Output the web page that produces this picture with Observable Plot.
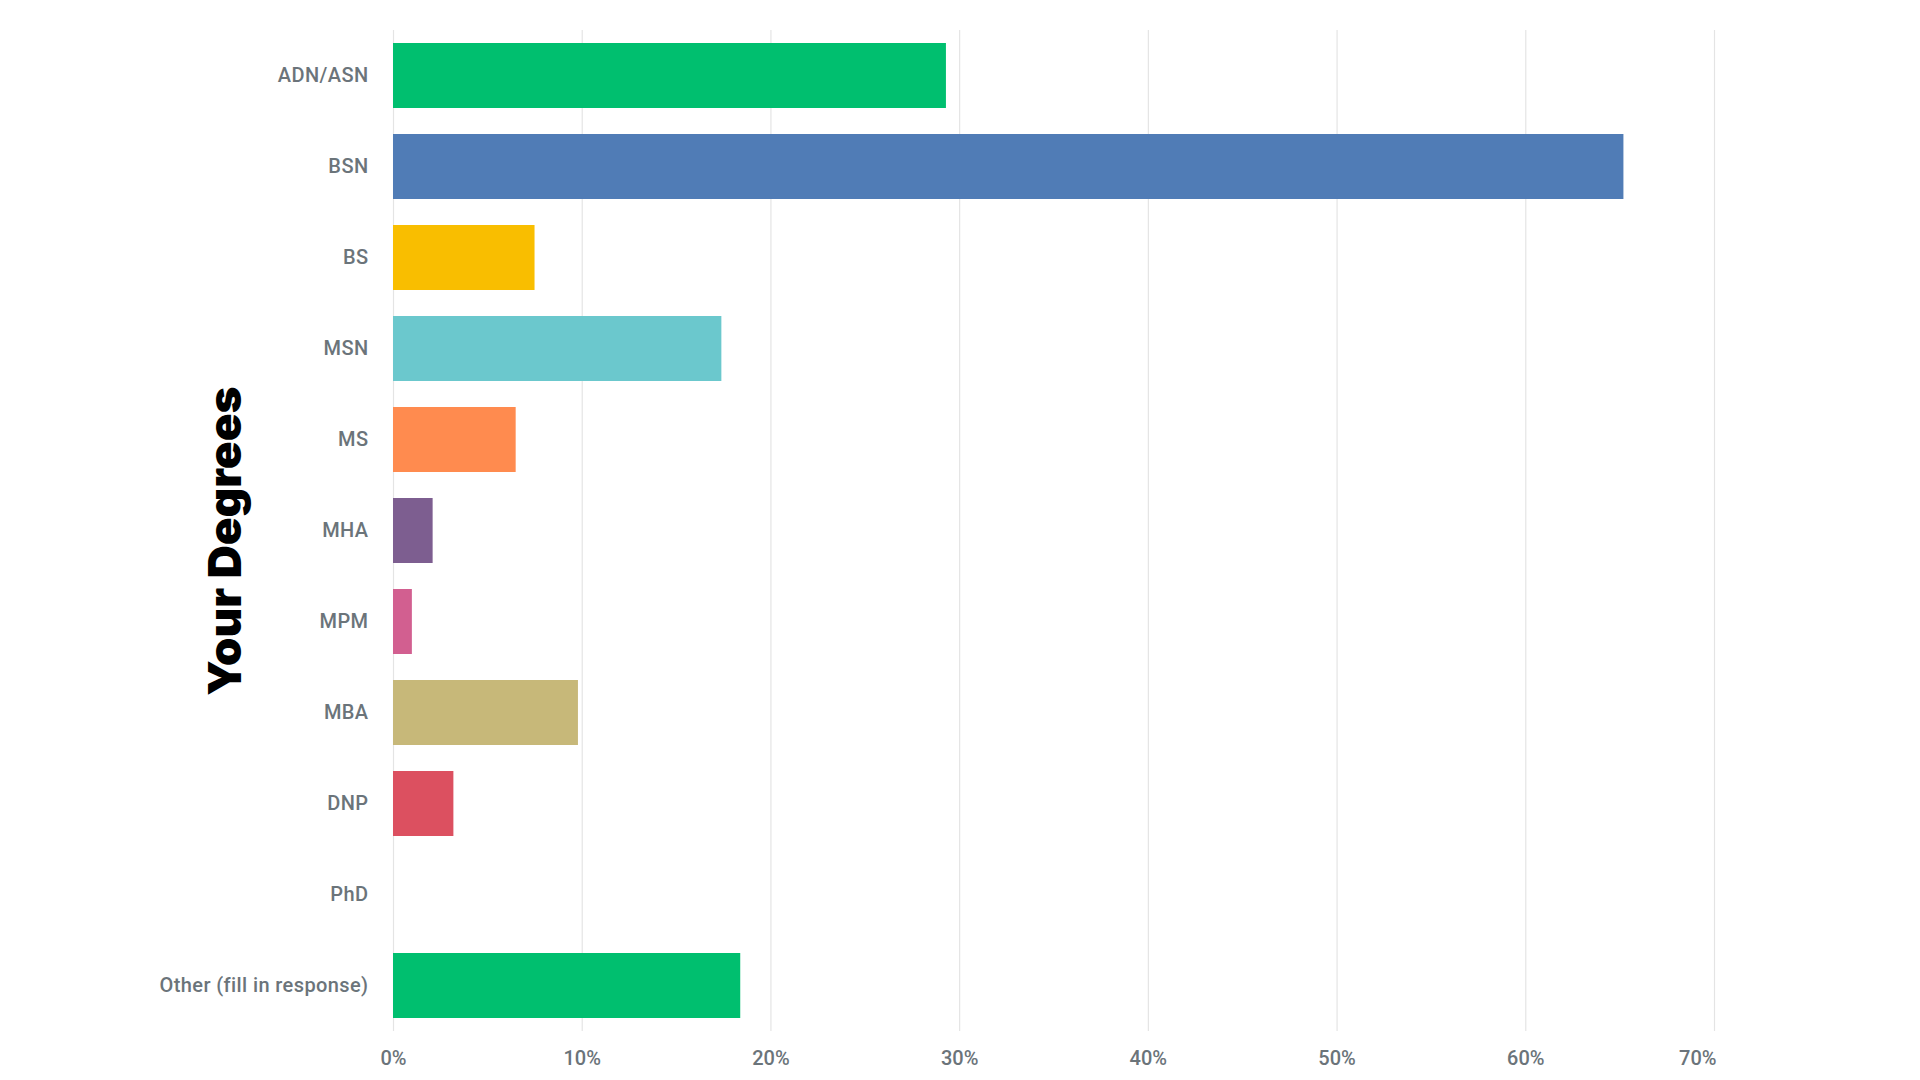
<!DOCTYPE html>
<html>
<head>
<meta charset="utf-8">
<script src="https://cdn.jsdelivr.net/npm/d3@7"></script>
<script src="https://cdn.jsdelivr.net/npm/@observablehq/plot@0.6"></script>
<style>
  html, body { margin: 0; padding: 0; background: #fff; }
  #chart svg { display: block; }
  #chart svg g[aria-label="y-axis tick label"] text { letter-spacing: 0.4px; }
</style>
</head>
<body>
<div id="chart"></div>
<script>
const categories = ["ADN/ASN", "BSN", "BS", "MSN", "MS", "MHA", "MPM", "MBA", "DNP", "PhD", "Other (fill in response)"];
const percents = [29.3, 65.2, 7.5, 17.4, 6.5, 2.1, 1.0, 9.8, 3.2, 0, 18.4];
const colors = ["#00bf6f", "#507cb6", "#f9be00", "#6bc8cd", "#ff8b4f", "#7d5e90", "#d25f90", "#c7b879", "#dc5060", "#9e9e9e", "#00bf6f"];
const xTicks = [0, 10, 20, 30, 40, 50, 60, 70];
const yTitle = "Your Degrees";

const data = categories.map((c, i) => ({degree: c, pct: percents[i]}));
const labelColor = "#6b747a";

const chart = Plot.plot({
  width: 1920,
  height: 1080,
  marginTop: 30,
  marginBottom: 49,
  marginLeft: 393,
  marginRight: 206,
  style: {fontFamily: "Roboto, sans-serif", background: "#fff"},
  x: {domain: [0, 70]},
  y: {domain: categories, paddingInner: 0.29, paddingOuter: 0.133},
  color: {domain: categories, range: colors},
  marks: [
    Plot.gridX({ticks: xTicks, stroke: "#e4e4e4", strokeOpacity: 1, strokeWidth: 1.2}),
    Plot.barX(data, {y: "degree", x: "pct", fill: "degree"}),
    Plot.axisY({tickSize: 0, tickPadding: 25, fontSize: 20, fontWeight: 500, fill: labelColor, label: null}),
    Plot.axisX({ticks: xTicks.slice(0, -1), tickSize: 0, tickPadding: 19, fontSize: 20, fontWeight: 500, fill: labelColor, tickFormat: d => d + "%", label: null}),
    Plot.axisX({ticks: xTicks.slice(-1), tickSize: 0, tickPadding: 19, fontSize: 20, fontWeight: 500, fill: labelColor, tickFormat: d => d + "%", textAnchor: "end", dx: 2, label: null}),
    Plot.text([yTitle], {text: d => d, frameAnchor: "left", textAnchor: "middle", rotate: -90, dx: -167, dy: 10, fontSize: 46, fontWeight: 900, fontFamily: "Inter, Lato, sans-serif", fill: "#000", lineAnchor: "middle"})
  ]
});
document.getElementById("chart").appendChild(chart);
</script>
</body>
</html>
